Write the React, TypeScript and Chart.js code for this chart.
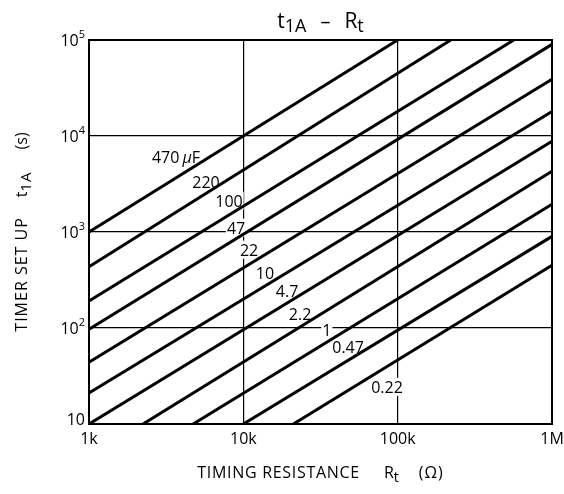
import React, { useEffect, useRef } from "react";
import { Chart, registerables } from "chart.js";

Chart.register(...registerables);

// ---- data ----
const capLabels = ["470", "220", "100", "47", "22", "10", "4.7", "2.2", "1", "0.47", "0.22"];
const startR = [1000, 1000, 1000, 1000, 1000, 1000, 1000, 2240, 4730, 10000, 21100];
const startT = [1000, 435, 191, 97, 44, 21, 10, 10, 10, 10, 10];
const endR = [100000, 221000, 566000, 1000000, 1000000, 1000000, 1000000, 1000000, 1000000, 1000000, 1000000];
const endT = [100000, 100000, 100000, 90000, 39000, 18000, 8800, 4300, 1950, 900, 450];
const labelR = [3660, 5730, 8070, 8970, 10900, 13800, 19200, 23300, 34800, 47700, 85300];
const labelT = [6100, 3350, 2120, 1110, 655, 377, 244, 141, 96, 64, 24.4];
const xTickValues = [1000, 10000, 100000, 1000000];
const xTickLabels = ["1k", "10k", "100k", "1M"];
const yTickValues = [10, 100, 1000, 10000, 100000];
const yTickExponents = ["", "2", "3", "4", "5"];

const FAMILY = '"Open Sans", "DejaVu Sans", sans-serif';
const fnt = (size: number, italic = false) => `${italic ? "italic " : ""}${size}px ${FAMILY}`;

type Seg = { text: string; size: number; dy?: number; italic?: boolean; gap?: number; ls?: number };

function setSeg(ctx: any, s: Seg) {
  ctx.font = fnt(s.size, s.italic);
  ctx.letterSpacing = `${s.ls || 0}px`;
}

function measure(ctx: CanvasRenderingContext2D, segs: Seg[]) {
  let w = 0;
  for (const s of segs) {
    setSeg(ctx, s);
    w += ctx.measureText(s.text).width + (s.gap || 0);
  }
  (ctx as any).letterSpacing = "0px";
  return w;
}

function drawSegs(ctx: CanvasRenderingContext2D, segs: Seg[], x: number, y: number, align: "left" | "center" | "right") {
  const w = measure(ctx, segs);
  let cx = align === "center" ? x - w / 2 : align === "right" ? x - w : x;
  ctx.textAlign = "left";
  ctx.textBaseline = "alphabetic";
  for (const s of segs) {
    setSeg(ctx, s);
    ctx.fillText(s.text, cx, y + (s.dy || 0));
    cx += ctx.measureText(s.text).width + (s.gap || 0);
  }
  (ctx as any).letterSpacing = "0px";
}

function labelSegs(i: number): Seg[] {
  if (i === 0) {
    return [
      { text: "470", size: 16, gap: 3 },
      { text: "\u03bc", size: 16, italic: true },
      { text: "F", size: 16 },
    ];
  }
  return [{ text: capLabels[i], size: 16 }];
}

const textPlugin = {
  id: "customText",
  beforeDatasetsDraw(chart: any) {
    const { ctx } = chart;
    const xs = chart.scales.x;
    const ys = chart.scales.y;
    ctx.save();
    ctx.fillStyle = "#fff";
    capLabels.forEach((_, i) => {
      const px = xs.getPixelForValue(labelR[i]);
      const py = ys.getPixelForValue(labelT[i]);
      const w = measure(ctx, labelSegs(i));
      ctx.fillRect(px - w / 2 - 1, py - 9, w + 2, 18);
    });
    ctx.restore();
  },
  afterDatasetsDraw(chart: any) {
    const { ctx, chartArea } = chart;
    const xs = chart.scales.x;
    const ys = chart.scales.y;
    ctx.save();
    ctx.fillStyle = "#000";
    ctx.strokeStyle = "#000";
    // frame
    ctx.lineWidth = 2;
    ctx.strokeRect(chartArea.left, chartArea.top, chartArea.right - chartArea.left, chartArea.bottom - chartArea.top);

    // curve labels
    capLabels.forEach((_, i) => {
      const px = xs.getPixelForValue(labelR[i]);
      const py = ys.getPixelForValue(labelT[i]);
      drawSegs(ctx, labelSegs(i), px, py + 6, "center");
    });

    // x ticks
    xTickValues.forEach((v, i) => {
      const px = xs.getPixelForValue(v);
      drawSegs(ctx, [{ text: xTickLabels[i], size: 16 }], px, chartArea.bottom + 20, "center");
    });

    // y ticks
    yTickValues.forEach((v, i) => {
      const py = ys.getPixelForValue(v);
      const base = Math.min(py + 6, chartArea.bottom + 1);
      const segs: Seg[] = [{ text: "10", size: 16 }];
      if (yTickExponents[i]) segs.push({ text: yTickExponents[i], size: 11, dy: -8 });
      drawSegs(ctx, segs, chartArea.left - 4, base, "right");
    });

    // title
    drawSegs(
      ctx,
      [
        { text: "t", size: 21 },
        { text: "1A", size: 18, dy: 4, gap: 14 },
        { text: "\u2013", size: 20, gap: 14 },
        { text: "R", size: 21 },
        { text: "t", size: 18, dy: 4 },
      ],
      (chartArea.left + chartArea.right) / 2,
      28,
      "center"
    );

    // x title
    drawSegs(
      ctx,
      [
        { text: "TIMING RESISTANCE", size: 16, ls: 0.7, gap: 24 },
        { text: "R", size: 16 },
        { text: "t", size: 14, dy: 4, gap: 20 },
        { text: "(\u03a9)", size: 16, ls: 1 },
      ],
      (chartArea.left + chartArea.right) / 2,
      478,
      "center"
    );

    // y title (rotated)
    ctx.translate(27, (chartArea.top + chartArea.bottom) / 2);
    ctx.rotate(-Math.PI / 2);
    drawSegs(
      ctx,
      [
        { text: "TIMER SET UP", size: 16, ls: 1, gap: 20 },
        { text: "t", size: 16 },
        { text: "1A", size: 15, dy: 4, ls: 1, gap: 22 },
        { text: "(s)", size: 16 },
      ],
      0,
      0,
      "center"
    );
    ctx.restore();
  },
};

export default function App() {
  const ref = useRef<HTMLCanvasElement | null>(null);

  useEffect(() => {
    if (!ref.current) return;
    const chart = new Chart(ref.current, {
      type: "line",
      data: {
        datasets: capLabels.map((c, i) => ({
          label: c,
          data: [
            { x: startR[i], y: startT[i] },
            { x: endR[i], y: endT[i] },
          ],
          borderColor: "#000",
          borderWidth: 3,
          pointRadius: 0,
          fill: false,
          tension: 0,
          clip: 0,
        })),
      },
      options: {
        responsive: false,
        animation: false,
        devicePixelRatio: 1,
        layout: { padding: { top: 40, right: 12, left: 0, bottom: 0 } },
        plugins: {
          legend: { display: false },
          tooltip: { enabled: false },
          title: { display: false },
        },
        scales: {
          x: {
            type: "logarithmic",
            min: 1000,
            max: 1000000,
            afterBuildTicks: (s: any) => {
              s.ticks = xTickValues.map((v) => ({ value: v }));
            },
            afterFit: (s: any) => {
              s.height = 70;
            },
            ticks: { display: false },
            grid: { color: "#000", lineWidth: 1.2, drawTicks: false },
            border: { display: false },
          },
          y: {
            type: "logarithmic",
            min: 10,
            max: 100000,
            afterBuildTicks: (s: any) => {
              s.ticks = yTickValues.map((v) => ({ value: v }));
            },
            afterFit: (s: any) => {
              s.width = 89;
            },
            ticks: { display: false },
            grid: { color: "#000", lineWidth: 1.2, drawTicks: false },
            border: { display: false },
          },
        },
      } as any,
      plugins: [textPlugin],
    });
    return () => chart.destroy();
  }, []);

  return (
    <div style={{ position: "fixed", left: 0, top: 0, width: 564, height: 494, background: "#fff" }}>
      <canvas ref={ref} width={564} height={494} style={{ display: "block" }} />
    </div>
  );
}
